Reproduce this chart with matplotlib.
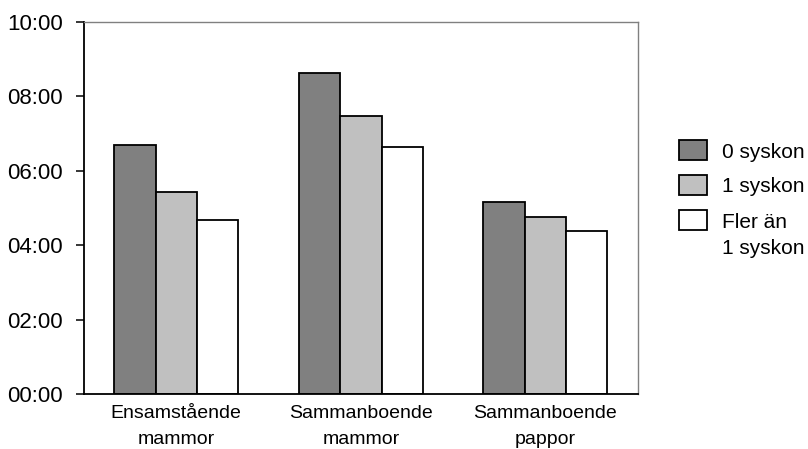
import numpy as np
import matplotlib
matplotlib.use('Agg')
import matplotlib.pyplot as plt
from matplotlib.ticker import FuncFormatter
from matplotlib.patches import Rectangle

plt.rcParams['font.family'] = ['Liberation Sans', 'DejaVu Sans']

groups = ['Ensamstående\nmammor', 'Sammanboende\nmammor', 'Sammanboende\npappor']
series = ['0 syskon', '1 syskon', 'Fler än\n1 syskon']
# time per group, hh:mm
syskon0 = ['6:41', '8:37', '5:09']
syskon1 = ['5:25', '7:28', '4:45']
fler = ['4:40', '6:38', '4:22']
colors = ['#808080', '#c0c0c0', '#ffffff']

def to_hours(t):
    h, m = t.split(':')
    return int(h) + int(m) / 60.0

values = [[to_hours(t) for t in s] for s in (syskon0, syskon1, fler)]

W, H = 808, 449
fig = plt.figure(figsize=(W / 100, H / 100), dpi=100)
ax = fig.add_axes([84 / W, 55 / H, (637.7 - 84) / W, (394 - 21.7) / H])

x = np.arange(len(groups))
w = 0.224
for i, (vals, c) in enumerate(zip(values, colors)):
    ax.bar(x + (i - 1) * w, vals, w, color=c, edgecolor='black', linewidth=1.3)

ax.set_xlim(-0.5, 2.5)
ax.set_ylim(0, 10)
ax.set_yticks(np.arange(0, 11, 2))
ax.yaxis.set_major_formatter(FuncFormatter(lambda v, p: '%02d:%02d' % (int(v), round((v % 1) * 60))))
ax.tick_params(axis='y', direction='out', length=6, width=1.1, pad=9, labelsize=16)
ax.set_xticks(x)
ax.set_xticklabels(groups, fontsize=14)
for lbl in ax.get_xticklabels():
    lbl.set_linespacing(1.65)
ax.tick_params(axis='x', length=0, pad=8)

for s in ['left', 'bottom']:
    ax.spines[s].set_color('black')
    ax.spines[s].set_linewidth(1.3)
for s in ['top', 'right']:
    ax.spines[s].set_color('#808080')
    ax.spines[s].set_linewidth(1.0)

# legend, drawn by hand so the wrapped label lines up like the original
rows = [150, 185, 220]
for lab, c, yc in zip(series, colors, rows):
    fig.add_artist(Rectangle((679 / W, 1 - (yc + 10) / H), 28 / W, 20 / H,
                             transform=fig.transFigure, facecolor=c,
                             edgecolor='black', linewidth=1.3))
    for k, line in enumerate(lab.split('\n')):
        fig.text(722 / W, 1 - (yc + 7.5 + 27 * k) / H, line, fontsize=15,
                 va='baseline', ha='left')

fig.savefig('out.png', dpi=100)
